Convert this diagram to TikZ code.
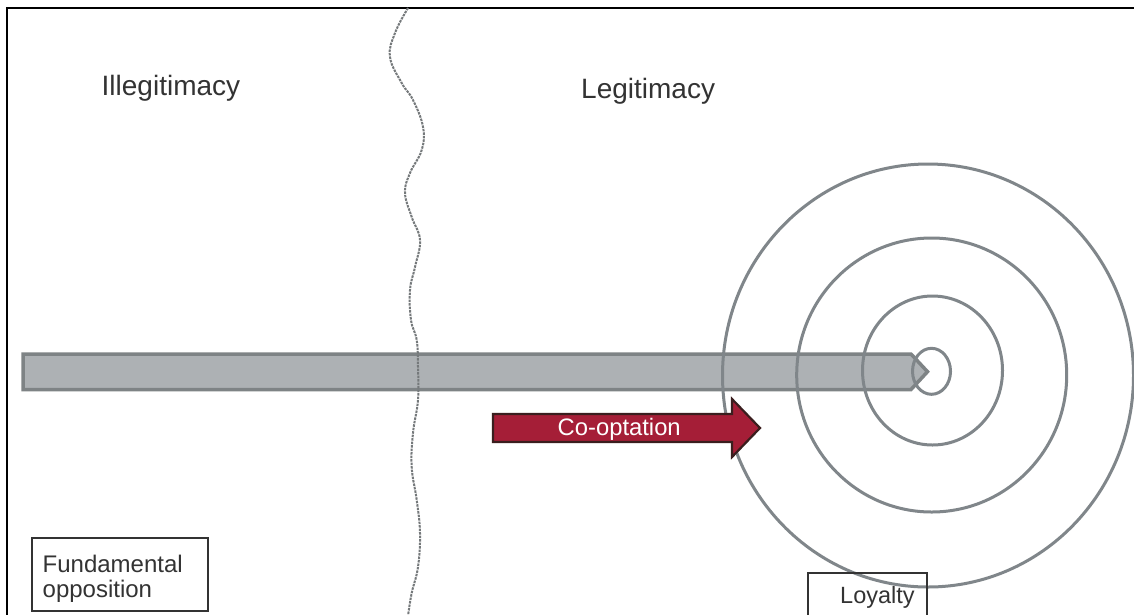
\documentclass[tikz,border=0pt]{standalone}
\usepackage{fontspec}
\setmainfont{Liberation Sans}
\definecolor{txt}{HTML}{333333}
\definecolor{barfill}{HTML}{ADB1B4}
\definecolor{barline}{HTML}{7E8385}
\definecolor{ring}{HTML}{80868A}
\definecolor{coopfill}{HTML}{A51E37}
\definecolor{coopline}{HTML}{3A1E1E}
\definecolor{wave}{HTML}{75797B}
\begin{document}
\begin{tikzpicture}[x=1pt,y=-1pt,
  title/.style={font=\fontsize{28}{32}\selectfont, text=txt, inner sep=0pt, anchor=base west},
  lbl/.style={font=\fontsize{24}{25}\selectfont, text=txt, inner sep=0pt, align=left},
  boxframe/.style={draw=txt, line width=2pt, inner sep=0pt},
  ringline/.style={draw=ring, line width=3pt},
  barshape/.style={draw=barline, fill=barfill, line width=3.5pt, line join=miter},
  coopshape/.style={draw=coopline, fill=coopfill, line width=2.2pt, line join=miter},
  wavyline/.style={draw=wave, line width=2pt, dash pattern=on 2.5pt off 1pt},
  frameline/.style={draw=black, line width=2pt}
]
\useasboundingbox (0,0) rectangle (1134,614);
\fill[white] (0,0) rectangle (1134,614);

% frame
\coordinate (fbl) at (7,616);
\coordinate (ftl) at (7,8);
\coordinate (ftr) at (1136,8);
\draw[frameline] (fbl) -- (ftl) -- (ftr);

% long grey bar
\draw[barshape] (23,354) -- (911,354) -- (927.5,371.7) -- (911,389.5) -- (23,389.5) -- cycle;

% concentric rings
\coordinate (c1) at (928,375.5);
\coordinate (c2) at (931.7,375);
\coordinate (c3) at (932.5,370.5);
\coordinate (c4) at (931.5,371.3);
\draw[ringline] (c1) ellipse [x radius=205.5, y radius=211.5];
\draw[ringline] (c2) ellipse [x radius=135, y radius=137];
\draw[ringline] (c3) ellipse [x radius=70, y radius=74.5];
\draw[ringline] (c4) ellipse [x radius=19, y radius=23];

% wavy boundary
\draw[wavyline] plot[smooth, tension=0.7] coordinates {
  (408,8) (395,33) (390,57) (401.7,83) (413,100) (423,127) (421.7,150)
  (410,173) (405,193) (411.7,217) (420,240) (415,267) (410,290) (411,320)
  (416.7,340) (418,367) (418,400) (413,433) (411.7,467) (416.7,500)
  (420,533) (418,567) (411.7,593) (408,616)};

% co-optation arrow
\draw[coopshape] (493,414) -- (732,414) -- (732,399) -- (760,428) -- (732,457)
  -- (732,442) -- (493,442) -- cycle;
\node[font=\fontsize{23.8}{28}\selectfont, text=white, inner sep=0pt, anchor=base west]
  (coopt) at (557.5,435) {Co-optation};

% titles
\node[title] (illeg) at (101.5,95) {Illegitimacy};
\node[title] (leg) at (581,98.3) {Legitimacy};

% boxes
\node[boxframe, minimum width=176.6pt, minimum height=72.4pt] (fundbox) at (120,574.5) {};
\node[lbl, anchor=north west] (fund) at (42.5,554.6) {Fundamental\\opposition};

\node[boxframe, minimum width=118.4pt, minimum height=52pt] (loybox) at (867.5,599) {};
\node[lbl, font=\fontsize{23.5}{25}\selectfont, anchor=base west] (loy) at (840,603.3) {Loyalty};
\end{tikzpicture}
\end{document}
